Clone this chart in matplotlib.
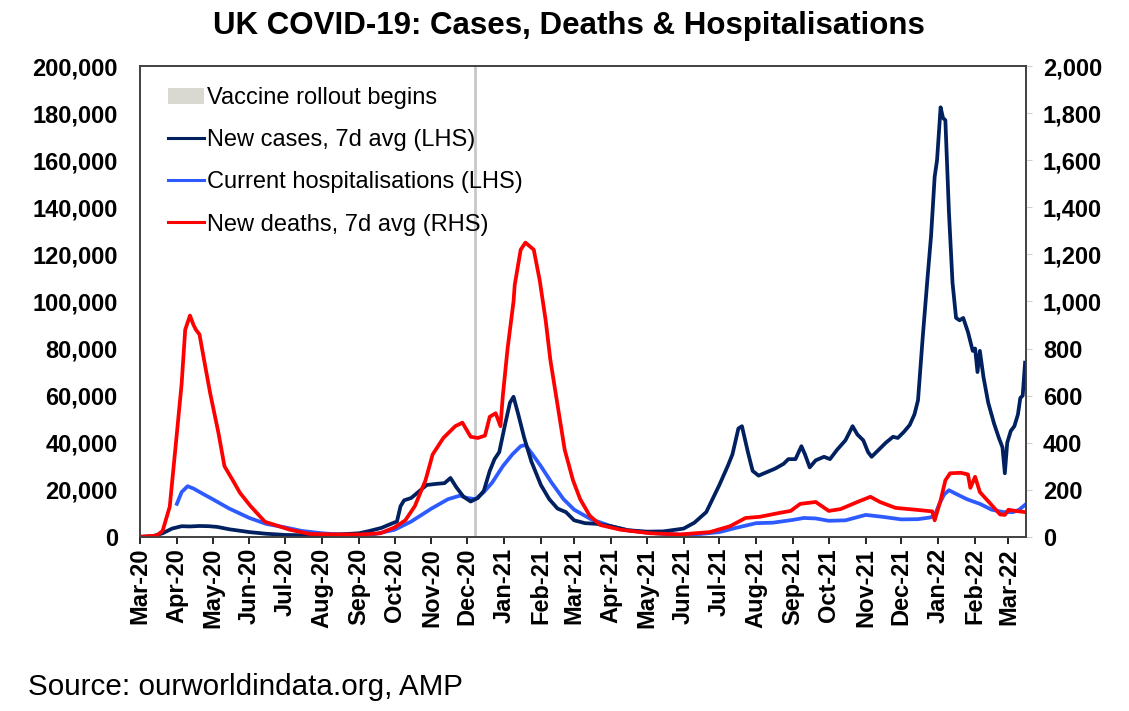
import pandas as pd
import matplotlib
matplotlib.use("Agg")
from matplotlib import pyplot as plt
from matplotlib.lines import Line2D
from matplotlib.patches import Patch
import matplotlib.dates as mdates
from matplotlib.ticker import FuncFormatter

plt.rcParams['font.family'] = ['Liberation Sans', 'DejaVu Sans']

# new cases, 7 day average (left axis)
case_dates = ["2020-03-01", "2020-03-12", "2020-03-20", "2020-03-28", "2020-04-05", "2020-04-12",
              "2020-04-20", "2020-04-28", "2020-05-05", "2020-05-15", "2020-06-01", "2020-06-15",
              "2020-07-01", "2020-07-15", "2020-08-01", "2020-08-15", "2020-09-01", "2020-09-10",
              "2020-09-20", "2020-09-28", "2020-10-03", "2020-10-06", "2020-10-09", "2020-10-15",
              "2020-10-22", "2020-10-28", "2020-11-05", "2020-11-12", "2020-11-17", "2020-11-22",
              "2020-11-28", "2020-12-04", "2020-12-10", "2020-12-15", "2020-12-20", "2020-12-24",
              "2020-12-28", "2021-01-02", "2021-01-06", "2021-01-09", "2021-01-13", "2021-01-18",
              "2021-01-24", "2021-02-01", "2021-02-08", "2021-02-15", "2021-02-22", "2021-03-01",
              "2021-03-10", "2021-03-20", "2021-04-01", "2021-04-15", "2021-05-01", "2021-05-15",
              "2021-06-01", "2021-06-10", "2021-06-20", "2021-07-01", "2021-07-08", "2021-07-12",
              "2021-07-17", "2021-07-20", "2021-07-25", "2021-07-29", "2021-08-03", "2021-08-10",
              "2021-08-17", "2021-08-24", "2021-08-28", "2021-09-03", "2021-09-08", "2021-09-11",
              "2021-09-15", "2021-09-20", "2021-09-27", "2021-10-02", "2021-10-08", "2021-10-15",
              "2021-10-21", "2021-10-25", "2021-10-30", "2021-11-03", "2021-11-06", "2021-11-12",
              "2021-11-18", "2021-11-24", "2021-11-28", "2021-12-03", "2021-12-08", "2021-12-12",
              "2021-12-15", "2021-12-19", "2021-12-23", "2021-12-26", "2021-12-29", "2021-12-31",
              "2022-01-03", "2022-01-05", "2022-01-07", "2022-01-10", "2022-01-13", "2022-01-16",
              "2022-01-19", "2022-01-22", "2022-01-26", "2022-01-30", "2022-02-01", "2022-02-03",
              "2022-02-05", "2022-02-08", "2022-02-12", "2022-02-17", "2022-02-21", "2022-02-24",
              "2022-02-26", "2022-02-28", "2022-03-03", "2022-03-06", "2022-03-09", "2022-03-11",
              "2022-03-13", "2022-03-15"]
case_vals = [0, 300, 1500, 3500, 4500, 4400,
             4600, 4500, 4200, 3200, 2000, 1300,
             800, 650, 750, 1000, 1500, 2500,
             3800, 5500, 6500, 13000, 15500, 16500,
             19500, 22000, 22500, 22800, 25000, 21000,
             17000, 15000, 16500, 19500, 28000, 33000,
             36000, 48000, 57000, 59500, 52000, 42000,
             32000, 22000, 16000, 12000, 10500, 7000,
             5800, 5500, 4500, 2800, 2200, 2300,
             3500, 6000, 10500, 22000, 30000, 35000,
             46000, 47000, 36000, 28000, 26000, 27500,
             29000, 31000, 33000, 33000, 38500, 35000,
             29500, 32500, 34000, 33000, 37000, 41000,
             47000, 43500, 41000, 36000, 34000, 37000,
             40000, 42500, 42000, 44500, 47500, 52000,
             58000, 85000, 110000, 128000, 153000, 160000,
             182500, 178000, 177000, 138000, 108000, 93000,
             92000, 93000, 87000, 79000, 80000, 70000,
             79000, 68000, 57000, 48000, 42000, 38000,
             27000, 40000, 45000, 47000, 52000, 59000,
             60000, 74000]

# current hospitalisations (left axis)
hosp_dates = ["2020-04-01", "2020-04-05", "2020-04-10", "2020-04-15", "2020-04-22", "2020-05-01",
              "2020-05-15", "2020-06-01", "2020-06-15", "2020-07-01", "2020-07-15", "2020-08-01",
              "2020-08-15", "2020-09-01", "2020-09-15", "2020-10-01", "2020-10-15", "2020-11-01",
              "2020-11-15", "2020-11-25", "2020-12-01", "2020-12-08", "2020-12-15", "2020-12-22",
              "2020-12-31", "2021-01-08", "2021-01-15", "2021-01-19", "2021-01-25", "2021-02-01",
              "2021-02-10", "2021-02-20", "2021-03-01", "2021-03-15", "2021-04-01", "2021-04-15",
              "2021-05-01", "2021-05-15", "2021-06-01", "2021-06-15", "2021-07-01", "2021-07-15",
              "2021-08-01", "2021-08-15", "2021-09-01", "2021-09-10", "2021-09-20", "2021-10-01",
              "2021-10-15", "2021-11-01", "2021-11-15", "2021-12-01", "2021-12-15", "2021-12-25",
              "2021-12-29", "2022-01-02", "2022-01-06", "2022-01-10", "2022-01-15", "2022-01-25",
              "2022-02-05", "2022-02-15", "2022-02-25", "2022-03-05", "2022-03-10", "2022-03-16"]
hosp_vals = [14000, 19000, 21500, 20500, 18500, 16000,
             12000, 8000, 5500, 4000, 2500, 1500,
             1000, 800, 1200, 3000, 6500, 12000,
             16000, 17500, 16500, 16000, 19000, 23000,
             30000, 35000, 38500, 39000, 35000, 30000,
             23000, 16000, 11500, 7500, 4500, 2800,
             1800, 1200, 900, 1200, 2000, 3800,
             5800, 6000, 7200, 8000, 7800, 6800,
             7000, 9300, 8500, 7400, 7500, 8200,
             9000, 14000, 18000, 19800, 18500, 16000,
             14000, 11500, 10500, 10500, 11500, 14000]

# new deaths, 7 day average (right axis)
death_dates = ["2020-03-01", "2020-03-15", "2020-03-20", "2020-03-26", "2020-04-01", "2020-04-05",
               "2020-04-08", "2020-04-12", "2020-04-15", "2020-04-17", "2020-04-20", "2020-04-25",
               "2020-04-29", "2020-05-06", "2020-05-11", "2020-05-18", "2020-05-24", "2020-06-02",
               "2020-06-14", "2020-07-05", "2020-07-22", "2020-08-16", "2020-09-02", "2020-09-19",
               "2020-10-01", "2020-10-10", "2020-10-18", "2020-10-27", "2020-11-02", "2020-11-11",
               "2020-11-21", "2020-11-27", "2020-12-04", "2020-12-10", "2020-12-16", "2020-12-20",
               "2020-12-25", "2020-12-29", "2020-12-31", "2021-01-04", "2021-01-09", "2021-01-10",
               "2021-01-15", "2021-01-19", "2021-01-26", "2021-01-31", "2021-02-05", "2021-02-09",
               "2021-02-15", "2021-02-21", "2021-02-28", "2021-03-06", "2021-03-14", "2021-03-23",
               "2021-04-09", "2021-05-04", "2021-05-29", "2021-06-23", "2021-07-10", "2021-07-23",
               "2021-08-04", "2021-08-21", "2021-08-30", "2021-09-07", "2021-09-20", "2021-10-01",
               "2021-10-11", "2021-10-26", "2021-11-05", "2021-11-13", "2021-11-26", "2021-12-13",
               "2021-12-27", "2021-12-29", "2022-01-03", "2022-01-07", "2022-01-11", "2022-01-20",
               "2022-01-26", "2022-01-28", "2022-02-01", "2022-02-05", "2022-02-14", "2022-02-22",
               "2022-02-26", "2022-03-01", "2022-03-07", "2022-03-15"]
death_vals = [0, 5, 25, 128, 440, 650,
              880, 940, 900, 880, 860, 720,
              610, 440, 300, 240, 187, 130,
              64, 30, 12, 10, 10, 15,
              40, 70, 130, 240, 350, 420,
              470, 485, 425, 420, 430, 510,
              525, 470, 600, 800, 1000, 1070,
              1220, 1250, 1220, 1090, 920, 750,
              560, 370, 240, 160, 90, 50,
              30, 15, 10, 20, 45, 80,
              85, 102, 110, 140, 148, 110,
              118, 150, 170, 148, 123, 115,
              108, 70, 155, 240, 270, 272,
              265, 208, 255, 190, 140, 95,
              93, 115, 110, 105]

vaccine_date = pd.Timestamp("2020-12-08")

fig = plt.figure(figsize=(11.29, 7.11), dpi=100)
ax = fig.add_axes([0.124, 0.245, 0.785, 0.662])
ax2 = ax.twinx()

ax.axvline(vaccine_date, color="#C8C8C8", lw=2, zorder=1)
ax.plot(pd.to_datetime(case_dates), case_vals, color="#002060", lw=2.7, zorder=3)
ax.plot(pd.to_datetime(hosp_dates), hosp_vals, color="#2E5BFF", lw=2.7, zorder=2)
ax2.plot(pd.to_datetime(death_dates), death_vals, color="#FF0000", lw=2.7)

ax.set_xlim(pd.Timestamp("2020-03-01"), pd.Timestamp("2022-03-16"))
ax.set_ylim(0, 200000)
ax2.set_ylim(0, 2000)
ax.set_yticks(range(0, 200001, 20000))
ax2.set_yticks(range(0, 2001, 200))
ax.yaxis.set_major_formatter(FuncFormatter(lambda v, p: f"{int(v):,}"))
ax2.yaxis.set_major_formatter(FuncFormatter(lambda v, p: f"{int(v):,}"))

ax.xaxis.set_major_locator(mdates.MonthLocator())
ax.xaxis.set_major_formatter(mdates.DateFormatter("%b-%y"))
for lbl in ax.get_xticklabels():
    lbl.set_rotation(90)
    lbl.set_fontweight("bold")
ax.tick_params(axis="x", labelsize=17, length=5, width=1.2, direction="out", pad=3)
ax.tick_params(axis="y", labelsize=17, length=0, pad=16)
ax2.tick_params(axis="y", labelsize=17, length=4, color="#D0D0D0", pad=8)
for lbl in ax.get_yticklabels() + ax2.get_yticklabels():
    lbl.set_fontweight("bold")

for a in (ax, ax2):
    for s in a.spines.values():
        s.set_color("#404040")
        s.set_linewidth(1.2)

handles = [Patch(facecolor="#D9D9D2", edgecolor="none"),
           Line2D([], [], color="#002060", lw=2.2),
           Line2D([], [], color="#2E5BFF", lw=2.2),
           Line2D([], [], color="#FF0000", lw=2.2)]
labels = ["Vaccine rollout begins", "New cases, 7d avg (LHS)",
          "Current hospitalisations (LHS)", "New deaths, 7d avg (RHS)"]
ax2.legend(handles, labels, loc="upper left", bbox_to_anchor=(0.016, 0.985), frameon=False,
           fontsize=17, handlelength=1.5, handletextpad=0.15, labelspacing=0.85,
           borderaxespad=0.2)

fig.suptitle("UK COVID-19: Cases, Deaths & Hospitalisations", fontsize=22.5, fontweight="bold",
             x=0.504, y=0.985)
fig.text(0.025, 0.022, "Source: ourworldindata.org, AMP", fontsize=21.3)

fig.savefig("out.png", dpi=100)
